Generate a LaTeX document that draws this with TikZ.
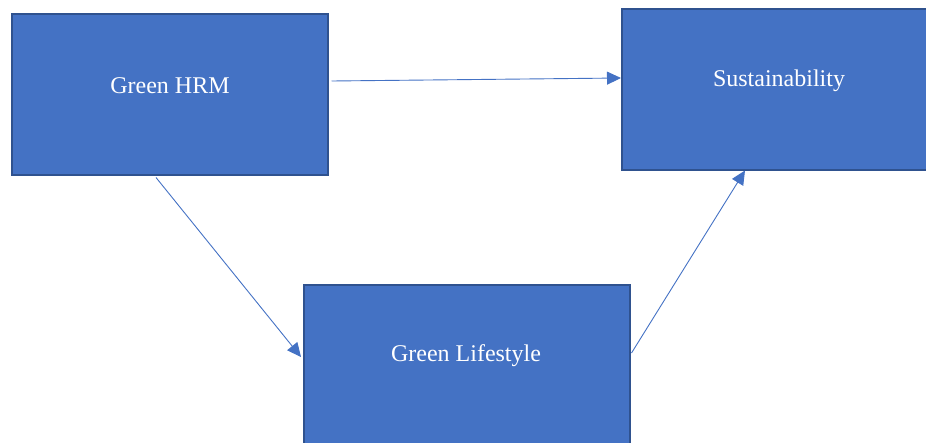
\documentclass[tikz,border=0pt]{standalone}
\usepackage{fontspec}
\setmainfont{Liberation Serif}
\usetikzlibrary{arrows.meta,calc}
\definecolor{boxfill}{HTML}{4472C4}
\definecolor{boxline}{HTML}{2F528F}
\tikzset{
  box/.style={draw=boxline, line width=1.5pt, fill=boxfill, anchor=north west, inner sep=0pt},
  boxtext/.style={text=white, font=\fontsize{24pt}{28pt}\selectfont, inner sep=0pt},
  conn/.style={draw=boxfill, line width=0.9pt, -{Triangle[length=14pt,width=13pt]}}
}
\begin{document}
\begin{tikzpicture}[x=1pt,y=-1pt]
\useasboundingbox (0,0) rectangle (926,442);
\clip (0,0) rectangle (926,442);
\node[box, minimum width=320pt, minimum height=161pt] (sus) at (621,8) {};
\node[box, minimum width=316pt, minimum height=161pt] (hrm) at (11,13) {};
\node[box, minimum width=326pt, minimum height=164pt] (lif) at (303,284) {};
\node[boxtext] (hrmt) at (170,86) {Green HRM};
\node[boxtext] (sust) at (779,81) {Sustainability};
\node[boxtext] (lift) at (466,356) {Green Lifestyle};
\draw[conn] ($(hrm.north east)+(3,68)$) -- ($(sus.north west)+(0,70)$);
\draw[conn] ($(hrm.south west)+(145,2)$) -- ($(lif.north west)+(-2,73)$);
\draw[conn] ($(lif.north east)+(1,69)$) -- ($(sus.south west)+(124,0)$);
\end{tikzpicture}
\end{document}
